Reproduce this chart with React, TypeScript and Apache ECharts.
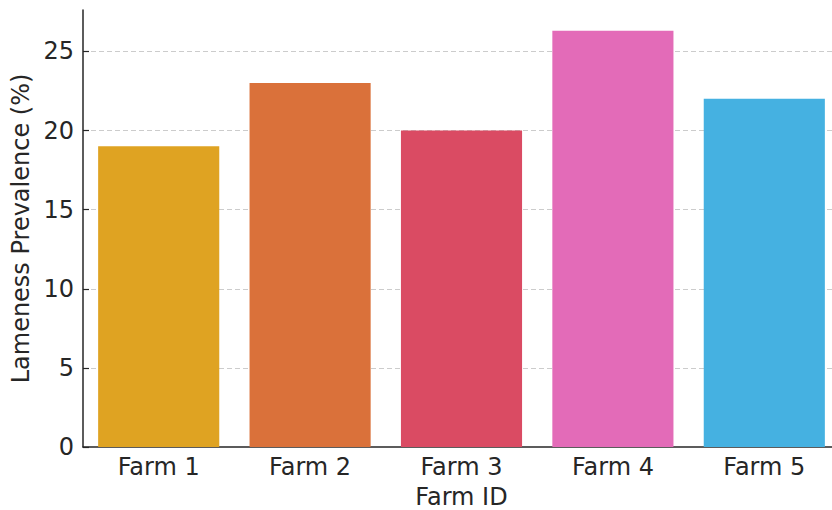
import React, { useEffect, useRef } from "react";
import * as echarts from "echarts";

const farms = ["Farm 1", "Farm 2", "Farm 3", "Farm 4", "Farm 5"];
const prevalence = [19, 23, 20, 26.3, 22];
const barColors = ["#dfa322", "#da713a", "#da4b63", "#e36bb8", "#45b1e1"];
const yTicks = [0, 5, 10, 15, 20, 25];

const TEXT = "#262626";
const FONT = "DejaVu Sans";

export default function App() {
  const ref = useRef<HTMLDivElement>(null);

  useEffect(() => {
    if (!ref.current) return;
    const chart = echarts.init(ref.current, null, { renderer: "svg" });
    const yMax = Math.max(...prevalence) * 1.05;

    chart.setOption({
      animation: false,
      backgroundColor: "#ffffff",
      textStyle: { fontFamily: FONT, color: TEXT },
      // plot area runs slightly past the right edge of the canvas
      grid: {
        left: 83,
        top: 10,
        width: 757,
        height: 437,
        containLabel: false,
        outerBoundsMode: "none",
      },
      xAxis: {
        type: "category",
        data: farms,
        name: "Farm ID",
        nameLocation: "middle",
        nameGap: 37.5,
        nameTextStyle: { fontSize: 24, color: TEXT, fontFamily: FONT },
        axisLine: { lineStyle: { color: TEXT, width: 1.5 } },
        axisTick: { alignWithLabel: true, inside: true, length: 6, lineStyle: { color: TEXT, width: 1.2 } },
        axisLabel: { fontSize: 24, color: TEXT, fontFamily: FONT, margin: 8 },
        splitLine: { show: false },
      },
      yAxis: {
        type: "value",
        min: 0,
        max: yMax,
        interval: 5,
        name: "Lameness Prevalence (%)",
        nameLocation: "middle",
        nameGap: 46,
        nameTextStyle: { fontSize: 24, color: TEXT, fontFamily: FONT },
        axisLine: { show: true, lineStyle: { color: TEXT, width: 1.5 } },
        axisTick: {
          show: true,
          inside: true,
          length: 6,
          customValues: yTicks,
          lineStyle: { color: TEXT, width: 1.2 },
        },
        axisLabel: {
          fontSize: 24,
          color: TEXT,
          fontFamily: FONT,
          margin: 9,
          customValues: yTicks,
        },
        splitLine: {
          show: true,
          showMinLine: false,
          lineStyle: { color: "#cccccc", type: [5, 3], width: 1 },
        },
      },
      series: [
        {
          type: "bar",
          data: prevalence.map((v, i) => ({ value: v, itemStyle: { color: barColors[i] } })),
          barWidth: "80%",
        },
      ],
    });

    return () => chart.dispose();
  }, []);

  return (
    <div
      ref={ref}
      style={{ position: "fixed", left: 0, top: 0, width: 832, height: 510 }}
    />
  );
}
